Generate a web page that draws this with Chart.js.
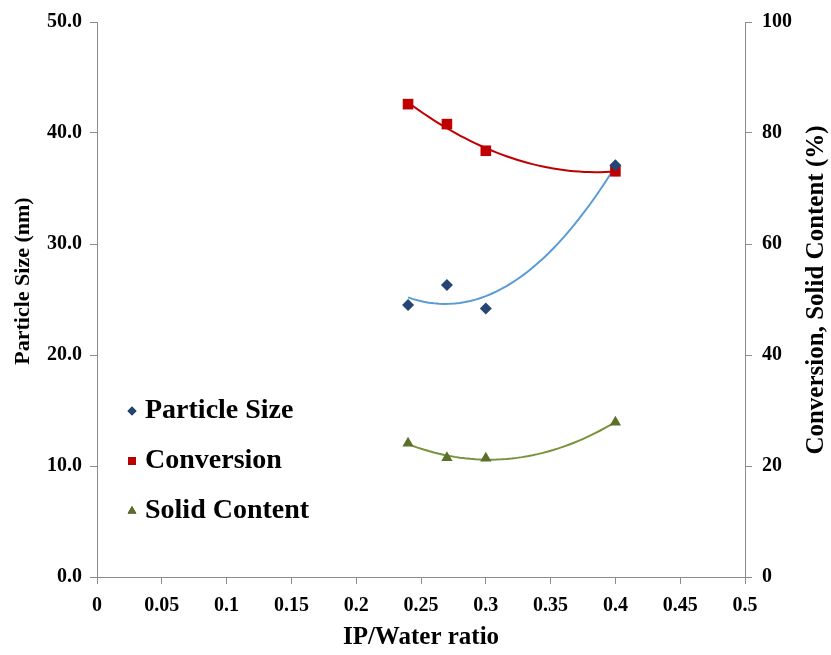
<!DOCTYPE html>
<html>
<head>
<meta charset="utf-8">
<script src="https://cdn.jsdelivr.net/npm/chart.js@4"></script>
<style>
  html, body { margin: 0; padding: 0; background: #fff; }
  #wrap { width: 831px; height: 655px; }
</style>
</head>
<body>
<div id="wrap"><canvas id="chart"></canvas></div>
<script>
// values
const ratios = [0.24, 0.27, 0.30, 0.40];
const particleSize = [24.5, 26.3, 24.2, 37.1];
const conversion = [85.2, 81.6, 76.8, 73.1];
const solidContent = [24.1, 21.5, 21.4, 27.9];
const xTicks = [0, 0.05, 0.1, 0.15, 0.2, 0.25, 0.3, 0.35, 0.4, 0.45, 0.5];

const serif = "'Liberation Serif', 'Times New Roman', serif";

// 2nd order polynomial trendline (least squares), like Excel does
function polyFit(xs, ys) {
  let n = xs.length, s = [0, 0, 0, 0, 0], t = [0, 0, 0];
  for (let i = 0; i < n; i++) {
    let p = 1;
    for (let k = 0; k < 5; k++) { s[k] += p; if (k < 3) t[k] += p * ys[i]; p *= xs[i]; }
  }
  let m = [[s[0], s[1], s[2], t[0]], [s[1], s[2], s[3], t[1]], [s[2], s[3], s[4], t[2]]];
  for (let i = 0; i < 3; i++) {
    for (let j = i + 1; j < 3; j++) {
      let f = m[j][i] / m[i][i];
      for (let k = i; k < 4; k++) m[j][k] -= f * m[i][k];
    }
  }
  let c = [0, 0, 0];
  for (let i = 2; i >= 0; i--) {
    let v = m[i][3];
    for (let k = i + 1; k < 3; k++) v -= m[i][k] * c[k];
    c[i] = v / m[i][i];
  }
  return c;
}
function trend(xs, ys) {
  let c = polyFit(xs, ys), out = [];
  let a = xs[0], b = xs[xs.length - 1];
  for (let i = 0; i <= 40; i++) {
    let x = a + (b - a) * i / 40;
    out.push({ x: x, y: c[0] + c[1] * x + c[2] * x * x });
  }
  return out;
}
function pts(xs, ys) { return xs.map((x, i) => ({ x: x, y: ys[i] })); }

const legendItems = [
  { text: 'Particle Size', style: 'rectRot', r: 4.5, color: '#254675' },
  { text: 'Conversion', style: 'rect', r: 5.5, color: '#c00000' },
  { text: 'Solid Content', style: 'triangle', r: 5, color: '#5b7029' }
];

// legend inside the plot + axis titles
const extrasPlugin = {
  id: 'extras',
  afterDraw(chart) {
    const ctx = chart.ctx, a = chart.chartArea;
    ctx.save();
    ctx.fillStyle = '#000';
    ctx.textBaseline = 'middle';
    ctx.font = 'bold 28px ' + serif;
    legendItems.forEach((it, i) => {
      let y = 411 + i * 50;
      Chart.helpers.drawPoint(ctx, { pointStyle: it.style, radius: it.r, borderWidth: 0 }, 132, y);
      ctx.fillStyle = it.color;
      ctx.fill();
      ctx.fillStyle = '#000';
      ctx.fillText(it.text, 145, y);
    });

    ctx.textAlign = 'center';
    ctx.font = 'bold 25px ' + serif;
    ctx.fillText('IP/Water ratio', (a.left + a.right) / 2, 638);

    ctx.save();
    ctx.translate(23, 281);
    ctx.rotate(-Math.PI / 2);
    ctx.font = 'bold 22px ' + serif;
    ctx.fillText('Particle Size (nm)', 0, 0);
    ctx.restore();

    ctx.save();
    ctx.translate(817, 290);
    ctx.rotate(-Math.PI / 2);
    ctx.font = 'bold 25px ' + serif;
    ctx.fillText('Conversion, Solid Content (%)', 0, 0);
    ctx.restore();
    ctx.restore();
  }
};

const axisGrid = { drawOnChartArea: false, color: '#8c8c8c', tickLength: 7 };
const axisBorder = { color: '#8c8c8c', width: 1 };
const tickFont = { family: serif, size: 20, weight: 'bold' };

new Chart(document.getElementById('chart'), {
  type: 'scatter',
  data: {
    datasets: [
      { label: 'Particle Size', data: pts(ratios, particleSize), yAxisID: 'y',
        pointStyle: 'rectRot', pointRadius: 6, backgroundColor: '#254675', borderColor: '#254675', borderWidth: 0 },
      { label: 'Conversion', data: pts(ratios, conversion), yAxisID: 'y1',
        pointStyle: 'rect', pointRadius: 7.5, backgroundColor: '#c00000', borderColor: '#c00000', borderWidth: 0 },
      { label: 'Solid Content', data: pts(ratios, solidContent), yAxisID: 'y1',
        pointStyle: 'triangle', pointRadius: 6.5, backgroundColor: '#5b7029', borderColor: '#5b7029', borderWidth: 0 },
      { label: 'ps trend', data: trend(ratios, particleSize), yAxisID: 'y', showLine: true,
        pointRadius: 0, borderColor: '#5b9bd5', borderWidth: 2, fill: false },
      { label: 'conv trend', data: trend(ratios, conversion), yAxisID: 'y1', showLine: true,
        pointRadius: 0, borderColor: '#c00000', borderWidth: 2, fill: false },
      { label: 'solid trend', data: trend(ratios, solidContent), yAxisID: 'y1', showLine: true,
        pointRadius: 0, borderColor: '#77933c', borderWidth: 2, fill: false }
    ]
  },
  options: {
    responsive: true,
    maintainAspectRatio: false,
    animation: false,
    layout: { padding: { top: 22, right: 0, bottom: 0, left: 0 } },
    plugins: { legend: { display: false }, tooltip: { enabled: false } },
    scales: {
      x: {
        type: 'linear', min: 0, max: 0.5,
        afterBuildTicks: axis => { axis.ticks = xTicks.map(v => ({ value: v })); },
        afterFit: s => { s.height = 655 - 577; },
        ticks: { color: '#000', font: tickFont, padding: 10, maxRotation: 0,
          callback: v => String(v) },
        grid: axisGrid, border: axisBorder
      },
      y: {
        position: 'left', min: 0, max: 50,
        afterFit: s => { s.width = 97; },
        ticks: { stepSize: 10, color: '#000', font: tickFont, padding: 8,
          callback: v => v.toFixed(1) },
        grid: axisGrid, border: axisBorder
      },
      y1: {
        position: 'right', min: 0, max: 100,
        afterFit: s => { s.width = 831 - 745; },
        ticks: { stepSize: 20, color: '#000', font: tickFont, padding: 10 },
        grid: axisGrid, border: axisBorder
      }
    }
  },
  plugins: [extrasPlugin]
});
</script>
</body>
</html>
